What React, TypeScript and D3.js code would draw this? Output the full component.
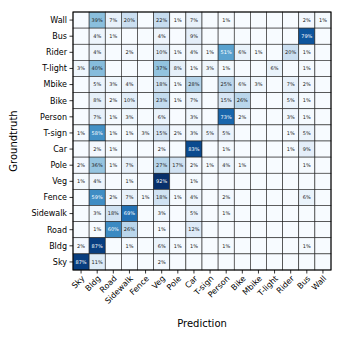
import React from 'react'
import * as d3 from 'd3'

// class names, x axis order (prediction)
const predLabels = ['Sky', 'Bldg', 'Road', 'Sidewalk', 'Fence', 'Veg', 'Pole', 'Car', 'T-sign', 'Person', 'Bike', 'Mbike', 'T-light', 'Rider', 'Bus', 'Wall']
// y axis order, top to bottom (groundtruth)
const truthLabels = ['Wall', 'Bus', 'Rider', 'T-light', 'Mbike', 'Bike', 'Person', 'T-sign', 'Car', 'Pole', 'Veg', 'Fence', 'Sidewalk', 'Road', 'Bldg', 'Sky']

// percentages per groundtruth row, columns in predLabels order (0 = empty)
const rowWall = [0, 39, 7, 20, 0, 22, 1, 7, 0, 1, 0, 0, 0, 0, 2, 1]
const rowBus = [0, 4, 1, 0, 0, 4, 0, 9, 0, 0, 0, 0, 0, 0, 79, 0]
const rowRider = [0, 4, 0, 2, 0, 10, 1, 4, 1, 51, 6, 1, 0, 20, 1, 0]
const rowTlight = [3, 40, 0, 0, 0, 37, 8, 1, 3, 1, 0, 0, 6, 0, 1, 0]
const rowMbike = [0, 5, 3, 4, 0, 18, 1, 28, 0, 25, 6, 3, 0, 7, 2, 0]
const rowBike = [0, 8, 2, 10, 0, 23, 1, 7, 0, 15, 26, 0, 0, 5, 1, 0]
const rowPerson = [0, 7, 1, 3, 0, 6, 0, 3, 0, 73, 2, 0, 0, 3, 1, 0]
const rowTsign = [1, 58, 1, 1, 3, 15, 2, 3, 5, 5, 0, 0, 0, 1, 5, 0]
const rowCar = [0, 2, 1, 0, 0, 2, 0, 83, 0, 1, 0, 0, 0, 1, 9, 0]
const rowPole = [2, 36, 1, 7, 0, 27, 17, 2, 1, 4, 1, 0, 0, 0, 1, 0]
const rowVeg = [1, 4, 0, 1, 0, 92, 0, 1, 0, 0, 0, 0, 0, 0, 0, 0]
const rowFence = [0, 59, 2, 7, 1, 18, 1, 4, 0, 2, 0, 0, 0, 0, 6, 0]
const rowSidewalk = [0, 3, 18, 69, 0, 3, 0, 5, 0, 1, 0, 0, 0, 0, 0, 0]
const rowRoad = [0, 1, 60, 26, 0, 1, 0, 12, 0, 0, 0, 0, 0, 0, 0, 0]
const rowBldg = [2, 87, 0, 1, 0, 6, 1, 1, 0, 1, 0, 0, 0, 0, 1, 0]
const rowSky = [87, 11, 0, 0, 0, 2, 0, 0, 0, 0, 0, 0, 0, 0, 0, 0]

const rows = [rowWall, rowBus, rowRider, rowTlight, rowMbike, rowBike, rowPerson, rowTsign, rowCar, rowPole, rowVeg, rowFence, rowSidewalk, rowRoad, rowBldg, rowSky]

const width = 344
const height = 338
const left = 73
const top = 12
const size = 258

const App = () => {
  const x = d3.scaleBand().domain(predLabels).range([left, left + size])
  const y = d3.scaleBand().domain(truthLabels).range([top, top + size])
  const color = d3.scaleSequential(d3.interpolateBlues).domain([0, 92])
  const font = 'DejaVu Sans, sans-serif'

  const cells = []
  rows.forEach((row, i) => {
    row.forEach((v, j) => {
      cells.push({ truth: truthLabels[i], pred: predLabels[j], v })
    })
  })

  return (
    <svg width={width} height={height} style={{ position: 'absolute', left: 0, top: 0, background: 'white' }}>
      {/* cells */}
      {cells.map((c, k) => (
        <rect
          key={k}
          x={x(c.pred)}
          y={y(c.truth)}
          width={x.bandwidth()}
          height={y.bandwidth()}
          fill={color(c.v)}
          stroke="#222"
          strokeWidth={0.6}
        />
      ))}
      {cells
        .filter((c) => c.v > 0)
        .map((c, k) => (
          <text
            key={'t' + k}
            x={x(c.pred) + x.bandwidth() / 2}
            y={y(c.truth) + y.bandwidth() / 2}
            dy="0.35em"
            textAnchor="middle"
            fontFamily={font}
            fontSize={5}
            fill={c.v >= 50 ? 'white' : '#222'}
          >
            {c.v}%
          </text>
        ))}
      <rect x={left} y={top} width={size} height={size} fill="none" stroke="black" strokeWidth={1} />

      {/* y axis */}
      {truthLabels.map((d) => (
        <g key={d} transform={`translate(${left}, ${y(d) + y.bandwidth() / 2})`}>
          <line x1={-3.5} x2={0} stroke="black" strokeWidth={0.8} />
          <text x={-6} dy="0.35em" textAnchor="end" fontFamily={font} fontSize={8}>
            {d}
          </text>
        </g>
      ))}

      {/* x axis */}
      {predLabels.map((d) => (
        <g key={d} transform={`translate(${x(d) + x.bandwidth() / 2}, ${top + size})`}>
          <line y1={0} y2={3.5} stroke="black" strokeWidth={0.8} />
          <text
            transform="translate(2, 7) rotate(-45)"
            dy="0.35em"
            textAnchor="end"
            fontFamily={font}
            fontSize={8}
          >
            {d}
          </text>
        </g>
      ))}

      <text x={left + size / 2} y={327} textAnchor="middle" fontFamily={font} fontSize={10}>
        Prediction
      </text>
      <text
        transform={`translate(17, ${top + size / 2}) rotate(-90)`}
        textAnchor="middle"
        fontFamily={font}
        fontSize={10}
      >
        Groundtruth
      </text>
    </svg>
  )
}

export default App
